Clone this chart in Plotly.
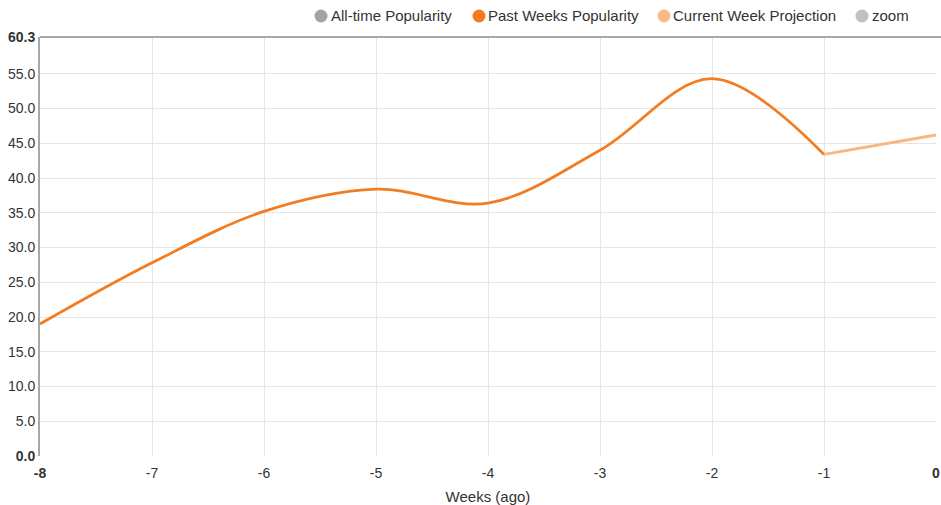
import plotly.graph_objects as go

past_weeks = [-8, -7, -6, -5, -4, -3, -2, -1]
past_popularity = [19.0, 27.8, 35.2, 38.4, 36.4, 44.0, 54.3, 43.4]
proj_weeks = [-1, 0]
proj_popularity = [43.4, 46.2]

y_tickvals = [0, 5, 10, 15, 20, 25, 30, 35, 40, 45, 50, 55, 60.3]
y_ticktext = ["<b>0.0</b>", "5.0", "10.0", "15.0", "20.0", "25.0", "30.0", "35.0",
              "40.0", "45.0", "50.0", "55.0", "<b>60.3</b>"]
x_tickvals = [-8, -7, -6, -5, -4, -3, -2, -1, 0]
x_ticktext = ["<b>-8</b>", "-7", "-6", "-5", "-4", "-3", "-2", "-1", "<b>0</b>"]

legend_names = ["All-time Popularity", "Past Weeks Popularity", "Current Week Projection", "zoom"]
legend_colors = ["#a3a3a6", "#f47a1f", "#f8bb86", "#c0c0c3"]
# legend layout (pixel positions of circle centres / text starts)
legend_circle_px = [321, 479, 664, 862]
legend_text_px = [330, 487, 672, 871]

ORANGE = "#f47c20"
LIGHT = "#f8b680"

W, H = 941, 505
PLOT_L, PLOT_R, PLOT_T, PLOT_B = 40, 936, 37, 456
L, R, T, B = PLOT_L, W - PLOT_R, PLOT_T, H - PLOT_B
PW = W - L - R
PH = H - T - B


def px_to_paper_x(px):
    return (px - PLOT_L) / PW


def py_to_paper_y(py):
    return (PLOT_B - py) / PH


fig = go.Figure()

fig.add_trace(go.Scatter(x=past_weeks, y=past_popularity, mode="lines",
                         line=dict(color=ORANGE, width=2.8, shape="spline", smoothing=1.0),
                         name="Past Weeks Popularity", showlegend=False))
fig.add_trace(go.Scatter(x=proj_weeks, y=proj_popularity, mode="lines",
                         line=dict(color=LIGHT, width=2.8),
                         name="Current Week Projection", showlegend=False))

ly = py_to_paper_y(16)
for name, col, cpx, tpx in zip(legend_names, legend_colors, legend_circle_px, legend_text_px):
    fig.add_shape(type="circle", xref="paper", yref="paper",
                  xsizemode="pixel", ysizemode="pixel",
                  xanchor=px_to_paper_x(cpx), yanchor=ly,
                  x0=-6.5, x1=6.5, y0=-6.5, y1=6.5,
                  fillcolor=col, line=dict(width=0))
    fig.add_annotation(x=px_to_paper_x(tpx), y=ly, xref="paper", yref="paper",
                       text=name, showarrow=False, xanchor="left", yanchor="middle",
                       font=dict(size=15, color="#333333"), borderpad=0)

fig.add_shape(type="line", xref="paper", yref="paper", x0=0, x1=1.01, y0=1, y1=1,
              line=dict(color="#a8a8a8", width=2))

fig.update_layout(
    width=W, height=H,
    margin=dict(l=L, r=R, t=T, b=B, autoexpand=False),
    paper_bgcolor="white", plot_bgcolor="white",
    font=dict(family="Liberation Sans, Arial, sans-serif", size=14, color="#333333"),
    showlegend=False,
    xaxis=dict(range=[-8, 0], tickvals=x_tickvals, ticktext=x_ticktext, automargin=False,
               showgrid=True, gridcolor="#e6e6e6", gridwidth=1, zeroline=False,
               showline=False, ticks="outside", ticklen=4, tickcolor="rgba(0,0,0,0)",
               ticklabeloverflow="allow", tickfont=dict(size=14, color="#333333"),
               title=dict(text="Weeks (ago)", font=dict(size=15, color="#333333"), standoff=11)),
    yaxis=dict(range=[0, 60.3], tickvals=y_tickvals, ticktext=y_ticktext, automargin=False,
               showgrid=True, gridcolor="#e6e6e6", gridwidth=1, zeroline=False,
               showline=True, linecolor="#a8a8a8", linewidth=2, ticks="",
               ticklabeloverflow="allow", tickfont=dict(size=14, color="#333333")),
)

fig.write_html("out.html", config={"displayModeBar": False},
               post_script="document.body.style.margin='0';document.body.style.overflow='hidden';")
